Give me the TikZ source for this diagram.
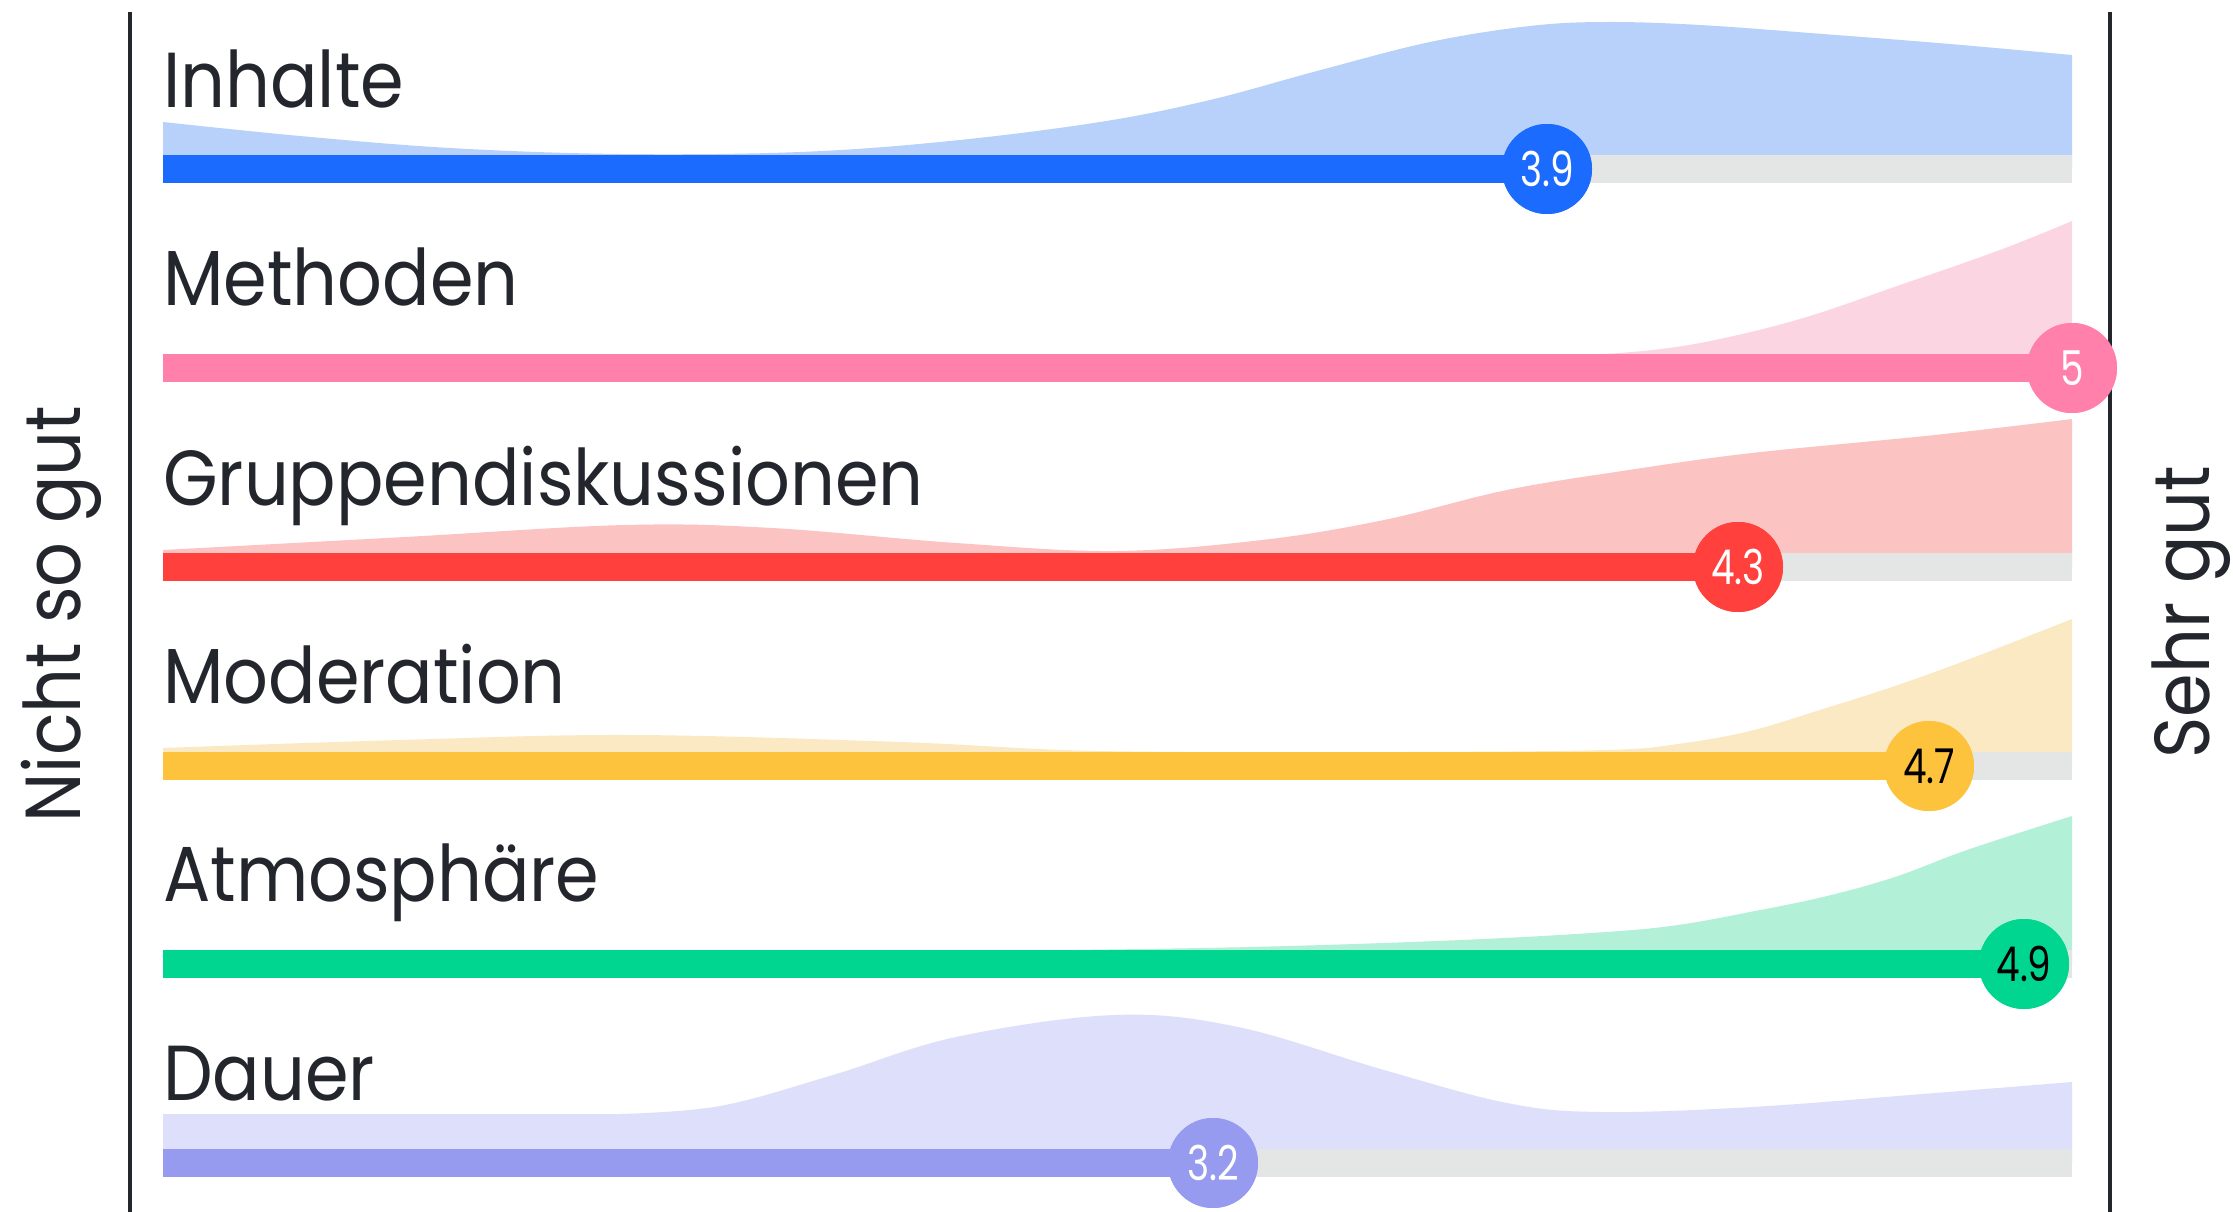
\documentclass[tikz,border=0pt]{standalone}
\usepackage{fontspec}
\setmainfont{Poppins}[FakeStretch=0.9]
\newfontfamily\numfont{Poppins}[FakeStretch=0.78]
\definecolor{ink}{HTML}{23262C}
\definecolor{track}{HTML}{E4E6E6}
\definecolor{blueBar}{HTML}{1C6BFF}\definecolor{blueFill}{HTML}{B8D1FA}
\definecolor{pinkBar}{HTML}{FF80AB}\definecolor{pinkFill}{HTML}{FCD5E2}
\definecolor{redBar}{HTML}{FF403D}\definecolor{redFill}{HTML}{FBC3C1}
\definecolor{yelBar}{HTML}{FEC33D}\definecolor{yelFill}{HTML}{FBE9C3}
\definecolor{greenBar}{HTML}{00D68F}\definecolor{greenFill}{HTML}{B2F0D8}
\definecolor{purpBar}{HTML}{979BF0}\definecolor{purpFill}{HTML}{DEDFFA}
\begin{document}
\begin{tikzpicture}[x=1pt,y=-1pt,
  axisline/.style={draw=ink,line width=4.5pt},
  rowlabel/.style={anchor=base west,inner sep=0pt,text=ink,font=\fontsize{78}{90}\selectfont},
  sidelabel/.style={anchor=base,rotate=90,inner sep=0pt,text=ink,font=\fontsize{78}{90}\selectfont},
  trackline/.style={draw=track,line width=28pt,line cap=butt},
  barline/.style={line width=28pt,line cap=butt},
  dot/.style={circle,minimum size=90pt,inner sep=0pt,font=\numfont\fontsize{48}{50}\selectfont},
  smoothplot/.style={smooth,tension=0.6}]
\useasboundingbox (0,0) rectangle (2233,1212);
\fill[white] (0,0) rectangle (2233,1212);

% ---------- density areas ----------
\fill[blueFill] (163,169) -- (163,122) -- plot[smoothplot] coordinates {(163,122) (300,136) (450,148) (620,154) (800,152) (950,141) (1100,122) (1210,100) (1317,71) (1430,42) (1530,26) (1606,22) (1700,25) (1823,34) (1950,44) (2072,55)} -- (2072,169) -- cycle;
\fill[pinkFill] (163,368) -- (163,355) -- (1550,355) -- plot[smoothplot] coordinates {(1550,355) (1620,353) (1700,343) (1800,319) (1900,285) (2000,250) (2072,221)} -- (2072,368) -- cycle;
\fill[redFill] (163,567) -- plot[smoothplot] coordinates {(163,550) (405,537) (625,525) (772,528) (956,543) (1115,551) (1262,540) (1384,520) (1507,490) (1629,470) (1752,453) (1935,435) (2072,419)} -- (2072,567) -- cycle;
\fill[yelFill] (163,766) -- plot[smoothplot] coordinates {(163,748) (400,740) (631,735) (900,742) (1100,751) (1400,752) (1606,750) (1678,744) (1750,731) (1823,709) (1895,686) (1967,660) (2072,619)} -- (2072,766) -- cycle;
\fill[greenFill] (163,964) -- (163,951) -- (1000,951) -- plot[smoothplot] coordinates {(1000,951) (1250,947) (1461,940) (1606,932) (1678,925) (1750,912) (1823,897) (1895,877) (1967,850) (2072,816)} -- (2072,964) -- cycle;
\fill[purpFill] (163,1163) -- (163,1114) -- (620,1114) -- plot[smoothplot] coordinates {(620,1114) (720,1106) (833,1075) (956,1037) (1115,1015) (1238,1027) (1384,1070) (1507,1103) (1600,1112) (1752,1107) (1935,1093) (2072,1082)} -- (2072,1163) -- cycle;

% ---------- axes ----------
\coordinate (lt) at (130,12);  \coordinate (lb) at (130,1212);
\coordinate (rt) at (2110,12); \coordinate (rb) at (2110,1212);
\draw[axisline] (lt) -- (lb);
\draw[axisline] (rt) -- (rb);
\node[sidelabel] (low) at (80,614) {Nicht so gut};
\node[sidelabel] (high) at (2209,612) {Sehr gut};

% ---------- rows ----------
% Inhalte
\coordinate (s1) at (163,169); \coordinate (e1) at (2072,169);
\draw[trackline] (s1) -- (e1);
\node[dot,fill=blueBar,text=white] (d1) at (1547,169) {3.9};
\draw[barline,draw=blueBar] (s1) -- (d1.center);
\node[dot,fill=blueBar,text=white] at (d1) {3.9};
\node[rowlabel] (l1) at (163,108) {Inhalte};

% Methoden
\coordinate (s2) at (163,368); \coordinate (e2) at (2072,368);
\draw[trackline] (s2) -- (e2);
\node[dot,fill=pinkBar,text=white] (d2) at (2072,368) {5};
\draw[barline,draw=pinkBar] (s2) -- (d2.center);
\node[dot,fill=pinkBar,text=white] at (d2) {5};
\node[rowlabel] (l2) at (163,305) {Methoden};

% Gruppendiskussionen
\coordinate (s3) at (163,567); \coordinate (e3) at (2072,567);
\draw[trackline] (s3) -- (e3);
\node[dot,fill=redBar,text=white] (d3) at (1738,567) {4.3};
\draw[barline,draw=redBar] (s3) -- (d3.center);
\node[dot,fill=redBar,text=white] at (d3) {4.3};
\node[rowlabel] (l3) at (163,505) {Gruppendiskussionen};

% Moderation
\coordinate (s4) at (163,766); \coordinate (e4) at (2072,766);
\draw[trackline] (s4) -- (e4);
\node[dot,fill=yelBar,text=black] (d4) at (1929,766) {4.7};
\draw[barline,draw=yelBar] (s4) -- (d4.center);
\node[dot,fill=yelBar,text=black] at (d4) {4.7};
\node[rowlabel] (l4) at (163,703) {Moderation};

% Atmosphäre
\coordinate (s5) at (163,964); \coordinate (e5) at (2072,964);
\draw[trackline] (s5) -- (e5);
\node[dot,fill=greenBar,text=black] (d5) at (2024,964) {4.9};
\draw[barline,draw=greenBar] (s5) -- (d5.center);
\node[dot,fill=greenBar,text=black] at (d5) {4.9};
\node[rowlabel] (l5) at (163,901) {Atmosphäre};

% Dauer
\coordinate (s6) at (163,1163); \coordinate (e6) at (2072,1163);
\draw[trackline] (s6) -- (e6);
\node[dot,fill=purpBar,text=white] (d6) at (1213,1163) {3.2};
\draw[barline,draw=purpBar] (s6) -- (d6.center);
\node[dot,fill=purpBar,text=white] at (d6) {3.2};
\node[rowlabel] (l6) at (163,1100) {Dauer};
\end{tikzpicture}
\end{document}
